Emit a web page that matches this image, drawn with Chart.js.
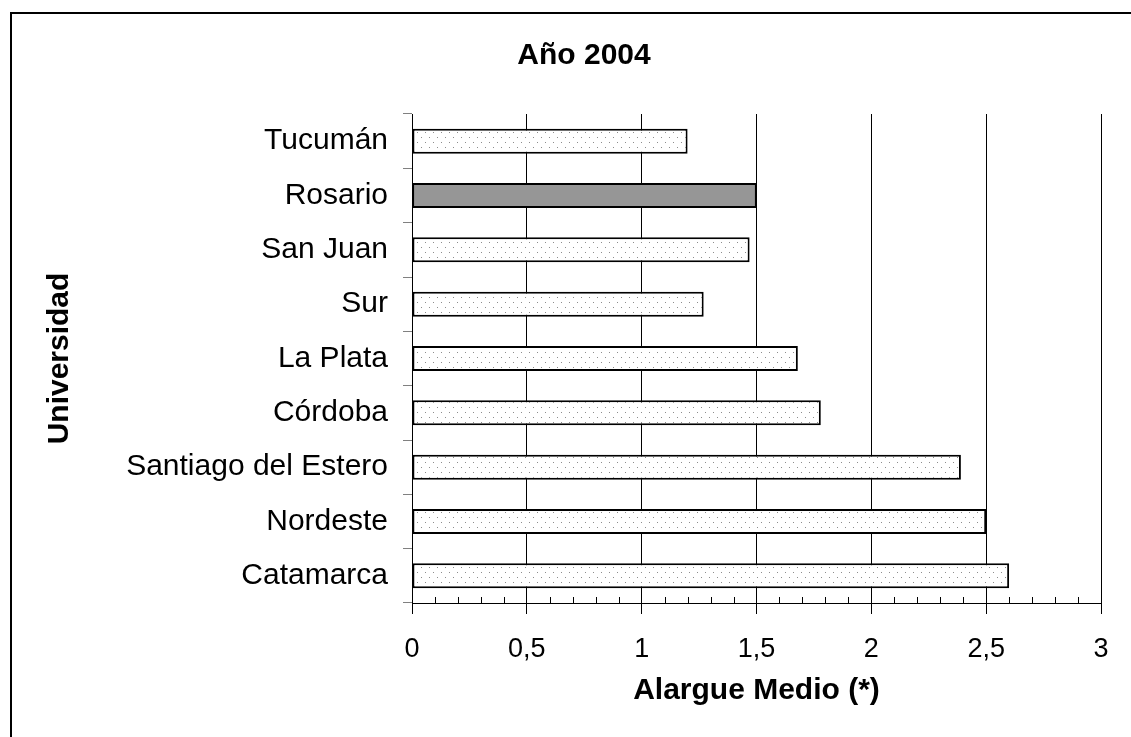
<!DOCTYPE html>
<html>
<head>
<meta charset="utf-8">
<script src="https://cdn.jsdelivr.net/npm/chart.js@4/dist/chart.umd.min.js"></script>
<style>
  html, body { margin: 0; padding: 0; background: #fff; overflow: hidden; }
  #frame { position: absolute; left: 10px; top: 12px; width: 1300px; height: 900px;
           border-top: 2px solid #000; border-left: 2px solid #000; }
  #c { position: absolute; left: 0; top: 0; }
</style>
</head>
<body>
<div id="frame"></div>
<canvas id="c" width="1168" height="737"></canvas>
<script>
const categories = ['Tucumán', 'Rosario', 'San Juan', 'Sur', 'La Plata', 'Córdoba', 'Santiago del Estero', 'Nordeste', 'Catamarca'];
const values = [1.2, 1.5, 1.47, 1.27, 1.68, 1.78, 2.39, 2.5, 2.6];
const highlighted = 'Rosario';
const xTicks = [0, 0.5, 1, 1.5, 2, 2.5, 3];

const FONT = "'Liberation Sans', Arial, sans-serif";
Chart.defaults.color = '#000';
Chart.defaults.font.family = FONT;

// dotted fill like the excel pattern
function dotPattern() {
    const p = document.createElement('canvas');
    p.width = 8;
    p.height = 10;
    const g = p.getContext('2d');
    g.fillStyle = '#fff';
    g.fillRect(0, 0, 8, 10);
    g.fillStyle = '#8c8c8c';
    g.fillRect(1, 2, 1, 1);
    g.fillRect(5, 7, 1, 1);
    return document.getElementById('c').getContext('2d').createPattern(p, 'repeat');
}
const dots = dotPattern();

// small ticks every 0.1 pointing up into the plot
const minorTicks = {
    id: 'minorTicks',
    afterDraw(chart) {
        const x = chart.scales.x;
        const ctx = chart.ctx;
        const y = chart.chartArea.bottom;
        ctx.save();
        ctx.strokeStyle = '#000';
        ctx.lineWidth = 1;
        for (let i = 1; i < 30; i++) {
            if (i % 5 === 0) continue;
            const px = Math.round(x.getPixelForValue(i / 10)) + 0.5;
            ctx.beginPath();
            ctx.moveTo(px, y);
            ctx.lineTo(px, y - 6);
            ctx.stroke();
        }
        ctx.restore();
    }
};

new Chart(document.getElementById('c'), {
    type: 'bar',
    data: {
        labels: categories,
        datasets: [{
            data: values,
            backgroundColor: categories.map(c => c === highlighted ? '#969696' : dots),
            borderColor: '#000',
            borderWidth: 2,
            borderSkipped: false,
            categoryPercentage: 1,
            barPercentage: 0.46
        }]
    },
    options: {
        indexAxis: 'y',
        responsive: false,
        animation: false,
        layout: { padding: 0 },
        plugins: {
            legend: { display: false },
            tooltip: { enabled: false },
            title: {
                display: true,
                text: 'Año 2004',
                font: { size: 30, weight: 'bold' },
                padding: { top: 38, bottom: 40 }
            }
        },
        scales: {
            x: {
                type: 'linear',
                min: 0,
                max: 3,
                afterBuildTicks: s => { s.ticks = xTicks.map(v => ({ value: v })); },
                afterFit: s => { s.height = 134; },
                grid: { color: '#000', lineWidth: 1, tickLength: 11 },
                border: { color: '#000', width: 1 },
                ticks: {
                    font: { size: 27 },
                    padding: 19,
                    callback: v => String(v).replace('.', ',')
                },
                title: {
                    display: true,
                    text: 'Alargue Medio (*)',
                    font: { size: 30, weight: 'bold' },
                    padding: { top: 0, bottom: 28 }
                }
            },
            y: {
                afterFit: s => { s.width = 412; },
                grid: { drawOnChartArea: false, color: '#808080', tickLength: 9 },
                border: { color: '#000', width: 1 },
                ticks: { font: { size: 30 }, padding: 15 },
                title: {
                    display: true,
                    text: 'Universidad',
                    font: { size: 30, weight: 'bold' },
                    padding: { top: 42, bottom: 0 }
                }
            },
            y2: {
                type: 'category',
                position: 'right',
                afterFit: s => { s.width = 67; },
                grid: { display: false },
                border: { display: false },
                ticks: { display: false }
            }
        }
    },
    plugins: [minorTicks]
});
</script>
</body>
</html>
